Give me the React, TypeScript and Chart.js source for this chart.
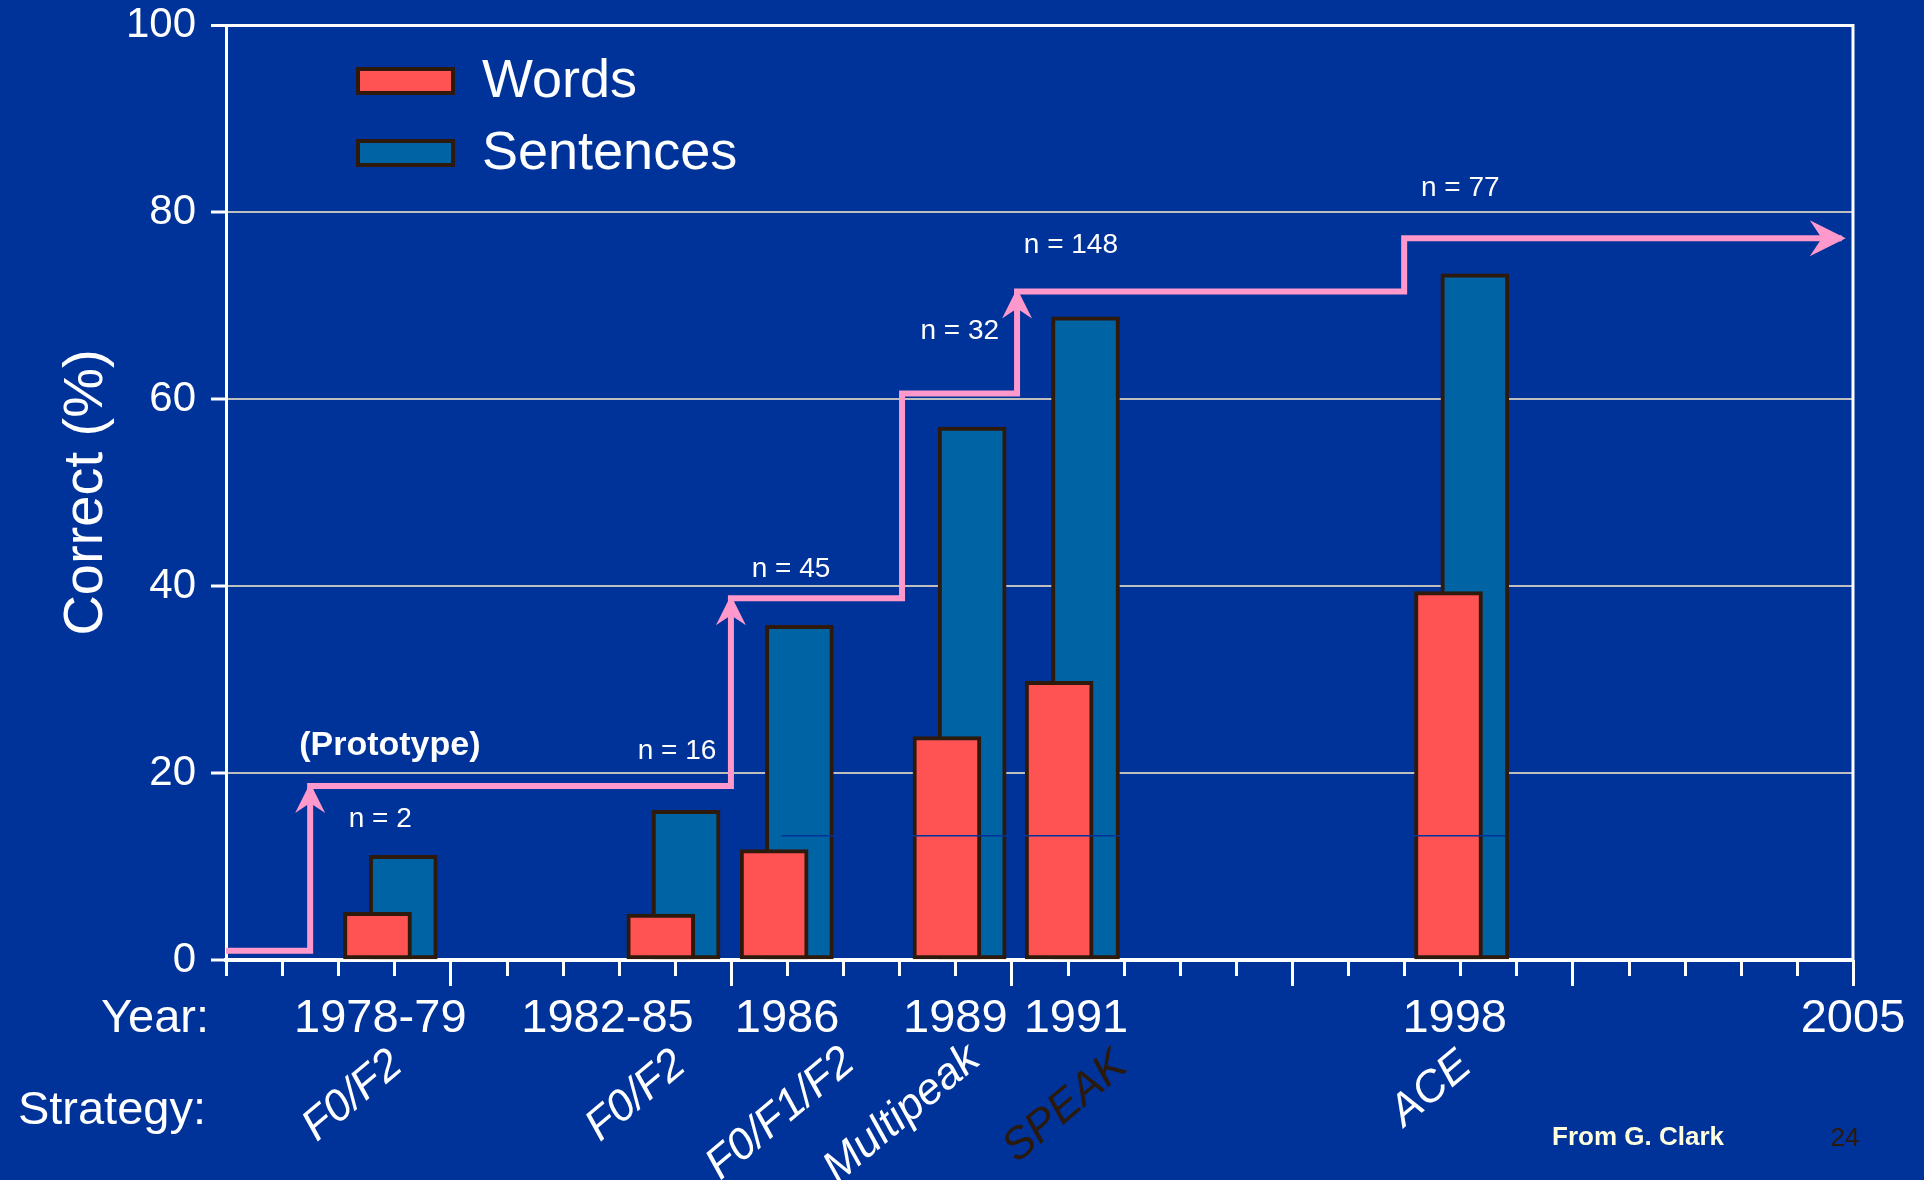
import React, { useEffect, useRef } from 'react';
import { Chart, registerables } from 'chart.js';

Chart.register(...registerables);

const FONT = '"Liberation Sans", Arial, Helvetica, sans-serif';

// ---------- data ----------
const seriesNames = ['Words', 'Sentences'];
const wordsX = [1978.7, 1983.75, 1985.77, 1988.85, 1990.85, 1997.79];
const wordsValues = [5.1, 4.9, 11.8, 23.9, 29.8, 39.4];
const sentencesX = [1979.16, 1984.2, 1986.22, 1989.3, 1991.32, 1998.26];
const sentencesValues = [11.2, 16.0, 35.8, 57.0, 68.8, 73.4];

// step line of speech-processing progress
const stepX = [1976, 1977.5, 1985, 1988.05, 1990.1, 1997, 2004.8];
const stepY = [1.0, 18.6, 38.7, 60.6, 71.5, 77.2, 77.2];
const stepArrows = ['', 'up', 'up', '', 'up', '', 'right'];

// faint seam line visible across the later bars
const seamX = [1985.9, 1998.8];
const seamY = [13.3, 13.3];

const xMin = 1976;
const xMax = 2005;
const yMin = 0;
const yMax = 100;
const yStep = 20;

const yearLabels = ['1978-79', '1982-85', '1986', '1989', '1991', '1998', '2005'];
const yearLabelX = [1978.75, 1982.8, 1986.0, 1989.0, 1991.15, 1997.9, 2005.0];

const strategyLabels = ['F0/F2', 'F0/F2', 'F0/F1/F2', 'Multipeak', 'SPEAK', 'ACE'];
const strategyX = [1978.26, 1983.31, 1985.89, 1988.05, 1990.96, 1997.48];

const nLabels = ['n = 2', 'n = 16', 'n = 45', 'n = 32', 'n = 148', 'n = 77'];
const nLabelX = [1978.75, 1984.04, 1986.07, 1989.08, 1991.06, 1998.0];
const nLabelY = [15.0, 22.3, 41.8, 67.2, 76.4, 82.5];

const prototypeLabel = '(Prototype)';
const prototypeX = 1978.92;
const prototypeY = 22.9;

// ---------- styles / layout ----------
const BG = '#003399';
const RED = '#FF5252';
const BLUE = '#0063A3';
const EDGE = '#2E1A0C';
const PINK = '#FF99CC';
const GRID = '#BEBEBE';
const DARK_TEXT = '#2B1A0C';
const strategyDrop = [136, 136, 154, 154, 147, 129];
const strategyColor = ['#FFFFFF', '#FFFFFF', '#FFFFFF', '#FFFFFF', DARK_TEXT, '#FFFFFF'];

function arrowHead(ctx: CanvasRenderingContext2D, x: number, y: number, dir: string) {
  ctx.beginPath();
  if (dir === 'up') {
    const len = 30, half = 15, notch = 20;
    ctx.moveTo(x, y);
    ctx.lineTo(x + half, y + len);
    ctx.lineTo(x, y + notch);
    ctx.lineTo(x - half, y + len);
  } else {
    const len = 36, half = 18, notch = 24;
    ctx.moveTo(x, y);
    ctx.lineTo(x - len, y - half);
    ctx.lineTo(x - notch, y);
    ctx.lineTo(x - len, y + half);
  }
  ctx.closePath();
  ctx.fill();
}

const decorPlugin = {
  id: 'decor',
  beforeDraw(chart: any) {
    const { ctx, width, height } = chart;
    ctx.save();
    ctx.fillStyle = BG;
    ctx.fillRect(0, 0, width, height);
    ctx.restore();
  },
  afterDatasetsDraw(chart: any) {
    const { ctx, scales } = chart;
    const x = scales.x, y = scales.y;
    ctx.save();
    ctx.fillStyle = PINK;
    stepArrows.forEach((d, i) => {
      if (!d) return;
      const px = x.getPixelForValue(stepX[i]);
      const py = y.getPixelForValue(stepY[i]);
      if (d === 'up') arrowHead(ctx, px, py - 3, 'up');
      else arrowHead(ctx, px + 4, py, 'right');
    });
    ctx.restore();
  },
  afterDraw(chart: any) {
    const { ctx, chartArea: ca, scales } = chart;
    const x = scales.x, y = scales.y;
    ctx.save();
    // right frame line
    ctx.strokeStyle = '#FFFFFF';
    ctx.lineWidth = 3;
    ctx.beginPath();
    ctx.moveTo(ca.right, ca.top - 1);
    ctx.lineTo(ca.right, ca.bottom);
    ctx.stroke();
    // x tick marks (yearly minor, 5-yearly major)
    ctx.lineWidth = 3;
    for (let yr = xMin; yr <= xMax; yr++) {
      const px = Math.round(x.getPixelForValue(yr)) + 0.5;
      const len = yr % 5 === 0 ? 26 : 16;
      ctx.beginPath();
      ctx.moveTo(px, ca.bottom);
      ctx.lineTo(px, ca.bottom + len);
      ctx.stroke();
    }

    // legend
    const fills = [RED, BLUE];
    seriesNames.forEach((nm, i) => {
      const bx = ca.left + 130;
      const cy = 81 + i * 72;
      ctx.fillStyle = EDGE;
      ctx.fillRect(bx, cy - 14, 99, 28);
      ctx.fillStyle = fills[i];
      ctx.fillRect(bx + 4, cy - 10, 91, 20);
      ctx.fillStyle = '#FFFFFF';
      ctx.font = `54px ${FONT}`;
      ctx.textAlign = 'left';
      ctx.textBaseline = 'middle';
      ctx.fillText(nm, bx + 126, cy + 1);
    });

    // n = labels
    ctx.fillStyle = '#FFFFFF';
    ctx.font = `28px ${FONT}`;
    ctx.textAlign = 'center';
    ctx.textBaseline = 'middle';
    nLabels.forEach((t, i) => {
      ctx.fillText(t, x.getPixelForValue(nLabelX[i]), y.getPixelForValue(nLabelY[i]));
    });
    ctx.font = `bold 34px ${FONT}`;
    ctx.fillText(prototypeLabel, x.getPixelForValue(prototypeX), y.getPixelForValue(prototypeY));

    // year labels
    ctx.font = `47px ${FONT}`;
    ctx.fillStyle = '#FFFFFF';
    ctx.textBaseline = 'middle';
    ctx.textAlign = 'center';
    yearLabels.forEach((t, i) => {
      ctx.fillText(t, x.getPixelForValue(yearLabelX[i]), ca.bottom + 59);
    });
    ctx.textAlign = 'right';
    ctx.fillText('Year:', 209, ca.bottom + 59);
    ctx.fillText('Strategy:', 206, ca.bottom + 151);

    // strategy labels (rotated)
    ctx.font = `italic 44px ${FONT}`;
    ctx.textAlign = 'center';
    strategyLabels.forEach((t, i) => {
      ctx.save();
      ctx.translate(x.getPixelForValue(strategyX[i]), ca.bottom + strategyDrop[i]);
      ctx.rotate(-40 * Math.PI / 180);
      ctx.fillStyle = strategyColor[i];
      ctx.fillText(t, 0, 0);
      ctx.restore();
    });

    // footer
    ctx.font = `bold 26px ${FONT}`;
    ctx.fillStyle = '#FFFFE0';
    ctx.textAlign = 'center';
    ctx.fillText('From G. Clark', 1638, 1138);
    ctx.font = `26px ${FONT}`;
    ctx.fillStyle = DARK_TEXT;
    ctx.fillText('24', 1845, 1139);
    ctx.restore();
  },
};

export default function App() {
  const ref = useRef<HTMLCanvasElement | null>(null);

  useEffect(() => {
    document.body.style.margin = '0';
    document.body.style.background = BG;
    const canvas = ref.current;
    if (!canvas) return;
    const chart = new Chart(canvas, {
      type: 'bar',
      data: {
        datasets: [
          {
            type: 'line',
            label: 'progress',
            data: stepX.map((v, i) => ({ x: v, y: stepY[i] })),
            borderColor: PINK,
            borderWidth: 6,
            stepped: 'before',
            pointRadius: 0,
            fill: false,
            order: 0,
            clip: false,
            borderJoinStyle: 'miter',
          } as any,
          {
            type: 'line',
            label: 'seam',
            data: seamX.map((v, i) => ({ x: v, y: seamY[i] })),
            borderColor: BG,
            borderWidth: 1.5,
            pointRadius: 0,
            fill: false,
            order: 1,
          } as any,
          {
            type: 'bar',
            label: seriesNames[0],
            data: wordsX.map((v, i) => ({ x: v, y: wordsValues[i] })),
            backgroundColor: RED,
            borderColor: EDGE,
            borderWidth: 4,
            borderSkipped: false,
            barThickness: 68,
            grouped: false,
            order: 2,
          } as any,
          {
            type: 'bar',
            label: seriesNames[1],
            data: sentencesX.map((v, i) => ({ x: v, y: sentencesValues[i] })),
            backgroundColor: BLUE,
            borderColor: EDGE,
            borderWidth: 4,
            borderSkipped: false,
            barThickness: 68,
            grouped: false,
            order: 3,
          } as any,
        ],
      },
      options: {
        responsive: false,
        animation: false,
        devicePixelRatio: 1,
        layout: { padding: { left: 0, right: 71, top: 25, bottom: 0 } },
        plugins: {
          legend: { display: false },
          tooltip: { enabled: false },
        },
        scales: {
          x: {
            type: 'linear',
            min: xMin,
            max: xMax,
            offset: false,
            grid: { display: false, offset: false },
            border: { display: true, color: '#FFFFFF', width: 4 },
            ticks: { display: false },
            afterFit: (s: any) => { s.height = 220; s.paddingLeft = 0; s.paddingRight = 0; },
          },
          y: {
            type: 'linear',
            min: yMin,
            max: yMax,
            ticks: {
              stepSize: yStep,
              color: '#FFFFFF',
              font: { family: FONT, size: 42 },
              padding: 15,
            },
            grid: {
              color: (c: any) => (c.tick && (c.tick.value === yMax || c.tick.value === yMin) ? '#FFFFFF' : GRID),
              lineWidth: (c: any) => (c.tick && c.tick.value === yMax ? 3 : 2),
              tickColor: '#FFFFFF',
              tickWidth: 3,
              tickLength: 15,
            },
            border: { display: true, color: '#FFFFFF', width: 3 },
            title: {
              display: true,
              text: 'Correct (%)',
              color: '#FFFFFF',
              font: { family: FONT, size: 56 },
              padding: { top: 53, bottom: 0 },
            },
            afterFit: (s: any) => { s.width = 226; s.paddingTop = 0; s.paddingBottom = 0; },
          },
        },
      } as any,
      plugins: [decorPlugin],
    });
    return () => chart.destroy();
  }, []);

  return (
    <div style={{ position: 'absolute', left: 0, top: 0, width: 1924, height: 1180, background: BG }}>
      <canvas ref={ref} width={1924} height={1180} style={{ display: 'block', width: 1924, height: 1180 }} />
    </div>
  );
}
